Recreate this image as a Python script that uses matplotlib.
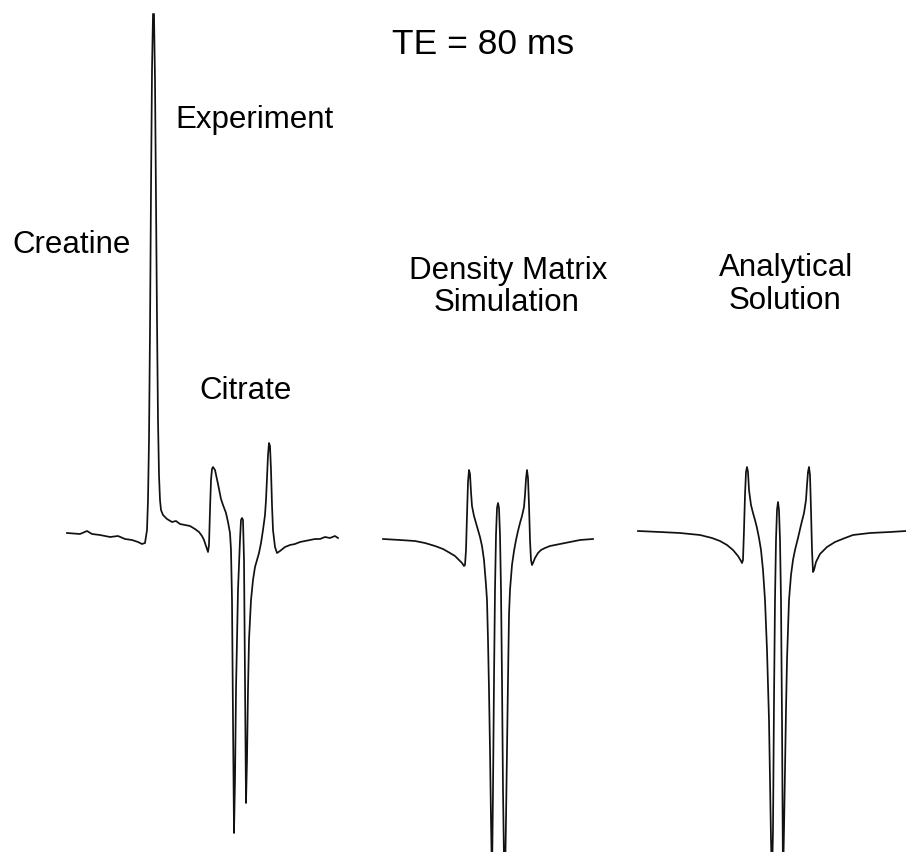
import numpy as np
import matplotlib
matplotlib.use("Agg")
import matplotlib.pyplot as plt

plt.rcParams['font.family'] = ['Liberation Sans', 'DejaVu Sans']

# Traced spectra: frequency offset from citrate centre (a.u.), amplitude above baseline (a.u.)
exp_x = [-173, -160, -153, -148, -140, -130, -122, -115, -108, -102, -98, -95,
         -93, -92, -91, -90, -89, -88, -87, -86, -85, -84, -83, -82, -81, -80,
         -79, -77, -73, -68, -64, -60, -55, -50, -45, -41, -38, -36, -34, -32,
         -31, -30, -29, -28, -27, -25, -22, -19, -17, -14, -12, -10, -9, -8,
         -7, -6, -5, -4, -2, 0, 1, 2, 3, 4, 5, 6, 7, 8, 9, 11, 13, 15, 17, 19,
         21, 23, 25, 26, 27, 28, 29, 30, 31, 32, 33, 35, 37, 40, 45, 50, 55,
         60, 65, 70, 75, 80, 85, 90, 95, 98]
exp_y = [2, 1, 4, 1, 0, -2, -1, -4, -5, -7, -9, -8,
         5, 35, 95, 205, 345, 465, 521, 521, 455, 335, 215, 115, 60, 35,
         25, 20, 16, 13, 14, 11, 10, 9, 6, 3, -1, -5, -11, -17,
         -10, 25, 55, 66, 68, 65, 51, 36, 30, 22, 13, 2, -15, -65,
         -185, -298, -245, -155, -55, -5, 15, 17, 15, -25, -145, -268, -225, -155, -105, -65, -45, -32, -25, -18,
         -8, 5, 20, 35, 57, 80, 92, 89, 65, 30, 5, -12, -18, -16, -12, -10, -9,
         -7, -6, -5, -4, -4, -2, -3, -1, -3]

dm_x = [-115, -98, -83, -73, -63, -55, -48, -43, -39, -36, -34, -33, -32, -31,
        -30, -29, -28, -27, -26, -24, -22, -20, -18, -16, -14, -12, -11, -10,
        -9, -8, -7, -6, -5, -4, -3, -2, -1, 0, 1, 2, 3, 4, 5, 6, 7, 8, 9, 10,
        11, 12, 14, 16, 18, 20, 22, 24, 26, 27, 28, 29, 30, 31, 32, 33, 34, 35,
        37, 40, 43, 47, 52, 62, 72, 82, 95]
dm_y = [0, -1, -2, -4, -7, -10, -14, -17, -21, -24, -27, -26, -11, 24,
        57, 69, 65, 47, 33, 23, 16, 9, 2, -7, -21, -46, -61, -101,
        -151, -211, -281, -341, -251, -141, -51, 4, 31, 36, 31, 4, -51, -141, -251, -321, -341, -281, -211, -141,
        -76, -51, -26, -12, -1, 8, 16, 23, 32, 44, 60, 69, 61, 34, -1, -21, -26, -24,
        -19, -14, -11, -9, -7, -5, -3, -1, 0]

an_x = [-140, -118, -98, -78, -66, -58, -51, -45, -40, -37, -36, -35, -34, -33,
        -32, -31, -30, -29, -27, -25, -23, -21, -19, -17, -15, -13, -11, -9,
        -8, -7, -6, -5, -4, -3, -2, -1, 0, 1, 2, 3, 4, 5, 6, 7, 8, 9, 11, 13,
        15, 17, 20, 23, 26, 28, 29, 30, 31, 32, 33, 34, 35, 36, 38, 42, 49, 57,
        67, 75, 92, 112, 128]
an_y = [0, -1, -2, -4, -7, -10, -14, -19, -25, -30, -32, -29, 1, 36,
        59, 64, 59, 41, 26, 18, 11, 3, -7, -19, -39, -69, -119, -189,
        -249, -309, -349, -299, -169, -69, -9, 21, 29, 21, -9, -69, -189, -349, -299, -239, -179, -129, -69, -44,
        -29, -19, -7, 6, 18, 31, 46, 59, 64, 56, 21, -19, -41, -39, -31, -23, -16, -11,
        -7, -4, -2, -1, 0]

W, H = 906, 852
fig = plt.figure(figsize=(W / 100, H / 100), dpi=100)


def panel(xs, ys, centre, base):
    # full-figure axes whose origin sits at the panel's centre/baseline, 1 unit = 1 px
    ax = fig.add_axes([0, 0, 1, 1])
    ax.plot(xs, ys, color='#111111', lw=1.25, solid_joinstyle='round')
    ax.set_xlim(-centre, W - centre)
    ax.set_ylim(-(H - base), base)
    ax.axis('off')
    ax.patch.set_alpha(0)
    return ax


panel(exp_x, exp_y, 240, 535)
panel(dm_x, dm_y, 498, 539)
panel(an_x, an_y, 778, 531)


def label(s, x, y, ha='left', size=22.5):
    fig.text(x / W, 1 - y / H, s, ha=ha, va='baseline', fontsize=size, color='black')


label("TE = 80 ms", 483, 54, ha='center', size=25.5)
label("Experiment", 175, 128)
label("Creatine", 12, 253)
label("Citrate", 199, 399)
label("Density Matrix", 508, 279, ha='center')
label("Simulation", 507, 311, ha='center')
label("Analytical", 786, 276, ha='center')
label("Solution", 785, 309, ha='center')

fig.savefig("out.png", dpi=100, facecolor='white')
